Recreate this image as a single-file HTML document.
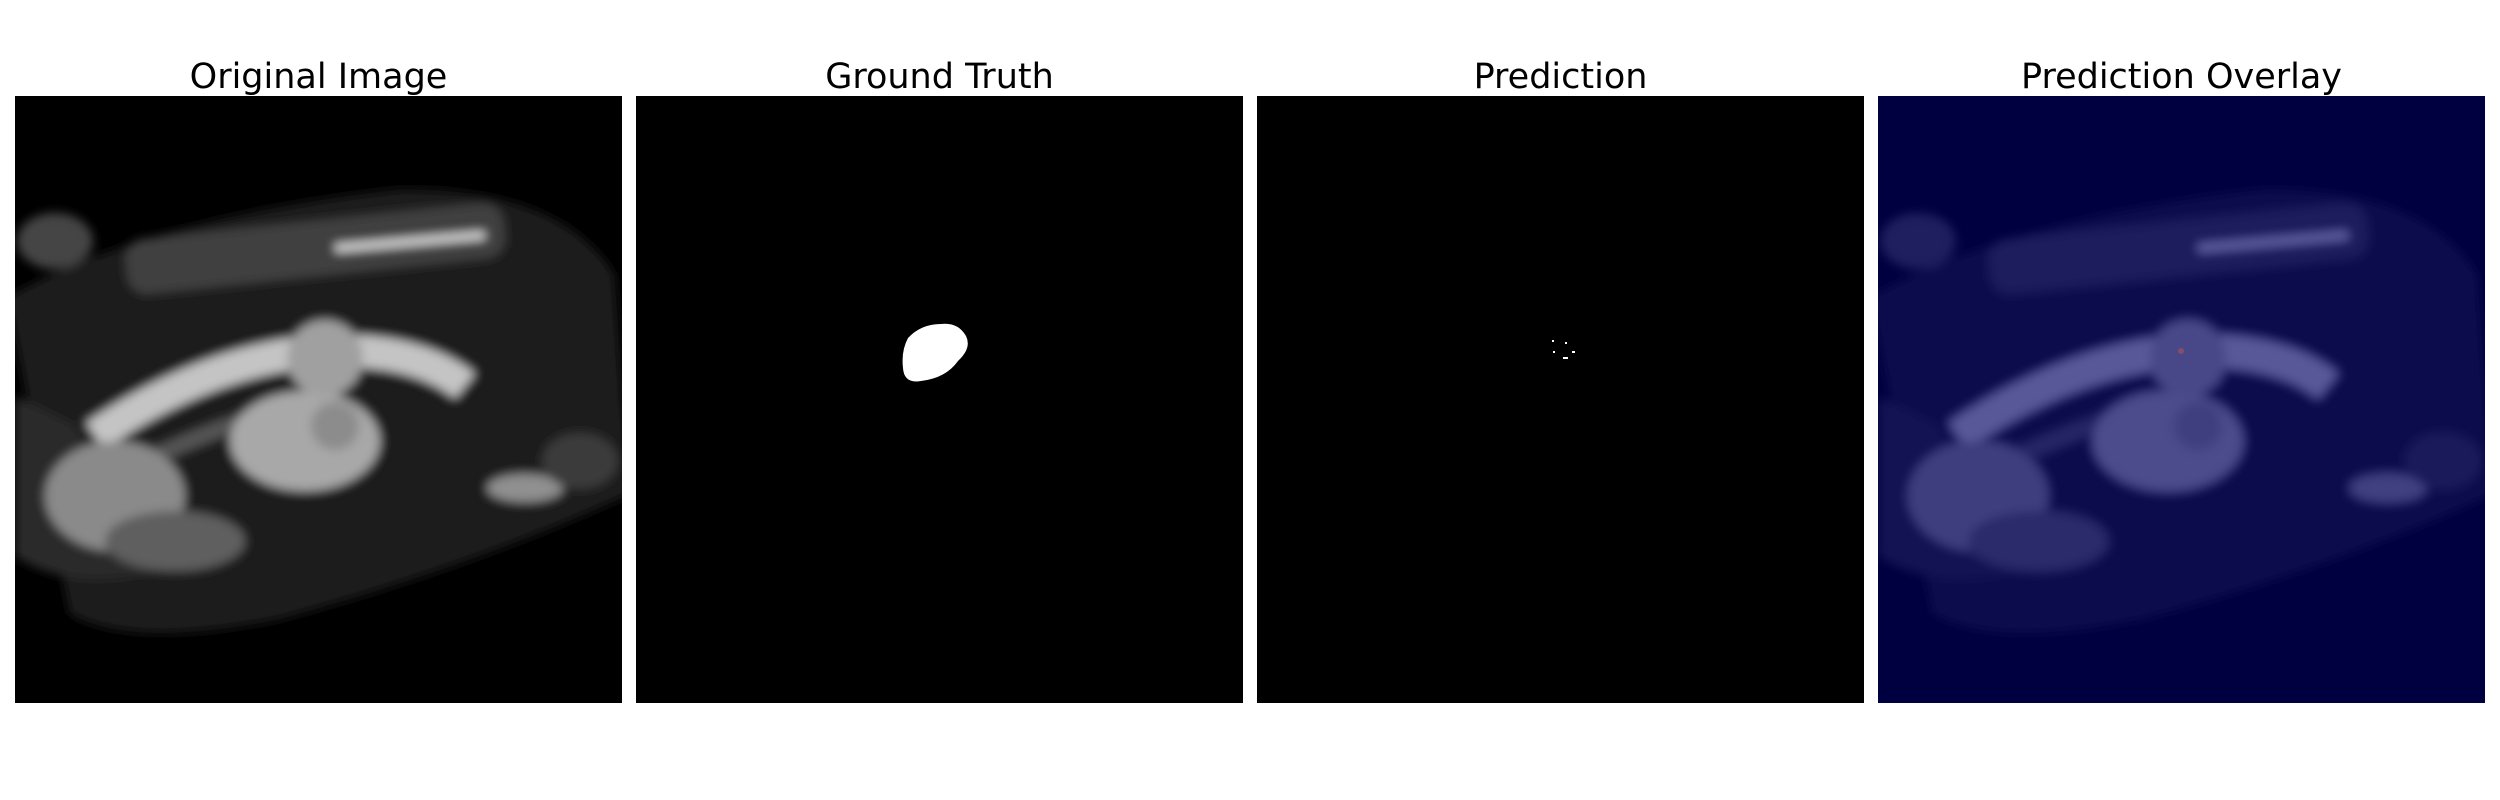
<!DOCTYPE html>
<html><head><meta charset="utf-8"><style>
body{margin:0;width:2500px;height:800px;background:#fff;position:relative;overflow:hidden;font-family:"DejaVu Sans","Liberation Sans",sans-serif}
.t{position:absolute;top:57px;width:607px;text-align:center;font-size:35px;color:#000}
.p{position:absolute;top:96px;width:607px;height:607px;background:#000;overflow:hidden}
</style></head><body>
<svg width="0" height="0" style="position:absolute"><defs>
<filter id="bl" x="-20%" y="-20%" width="140%" height="140%"><feGaussianBlur stdDeviation="5"/></filter>
<g id="mri" filter="url(#bl)">
<path d="M0,180 Q150,110 400,100 Q560,110 607,200 L607,420 Q450,480 250,520 Q100,540 40,500 Z" fill="#1c1c1c" transform="rotate(-4 300 300)"/>
<path d="M0,300 L0,460 Q60,500 160,470 Q100,420 60,330 Z" fill="#2a2a2a"/>
<rect x="110" y="125" width="380" height="55" rx="20" fill="#404040" transform="rotate(-6 300 150)"/>
<path d="M80,340 Q190,265 300,255 Q400,250 450,290" stroke="#c4c4c4" stroke-width="32" fill="none"/>
<path d="M120,370 Q240,310 330,305" stroke="#555" stroke-width="16" fill="none"/>
<ellipse cx="100" cy="400" rx="70" ry="55" fill="#8a8a8a"/>
<ellipse cx="160" cy="445" rx="70" ry="30" fill="#5e5e5e"/>
<ellipse cx="290" cy="345" rx="75" ry="50" fill="#a8a8a8"/>
<circle cx="310" cy="262" r="38" fill="#a0a0a0"/>
<circle cx="320" cy="330" r="24" fill="#8c8c8c"/>
<ellipse cx="510" cy="392" rx="38" ry="14" fill="#909090"/>
<ellipse cx="565" cy="365" rx="38" ry="28" fill="#3a3a3a"/>
<ellipse cx="40" cy="145" rx="38" ry="28" fill="#444"/>
<rect x="320" y="150" width="150" height="8" fill="#d8d8d8" transform="rotate(-5 300 150)"/>
</g></defs></svg>

<div class="t" style="left:15px">Original Image</div>
<div class="t" style="left:636px">Ground Truth</div>
<div class="t" style="left:1257px">Prediction</div>
<div class="t" style="left:1878px">Prediction Overlay</div>

<div class="p" style="left:15px">
<svg width="607" height="607"><use href="#mri"/></svg></div>

<div class="p" style="left:636px">
<svg width="607" height="607"><path d="M272,242 Q285,228 305,228 Q322,226 330,240 Q336,252 322,265 Q310,282 285,285 Q268,288 267,272 Q265,255 272,242 Z" fill="#fff"/></svg></div>

<div class="p" style="left:1257px">
<svg width="607" height="607" fill="#fff">
<rect x="295" y="244" width="2" height="2"/><rect x="308" y="246" width="2" height="2"/>
<rect x="296" y="255" width="2" height="2"/><rect x="315" y="255" width="3" height="2"/>
<rect x="306" y="261" width="5" height="2"/></svg></div>

<div class="p" style="left:1878px">
<svg width="607" height="607"><use href="#mri"/><rect width="607" height="607" fill="rgba(0,0,116,0.55)"/>
<circle cx="303" cy="255" r="3" fill="rgba(200,80,80,0.5)"/></svg></div>
</body></html>
